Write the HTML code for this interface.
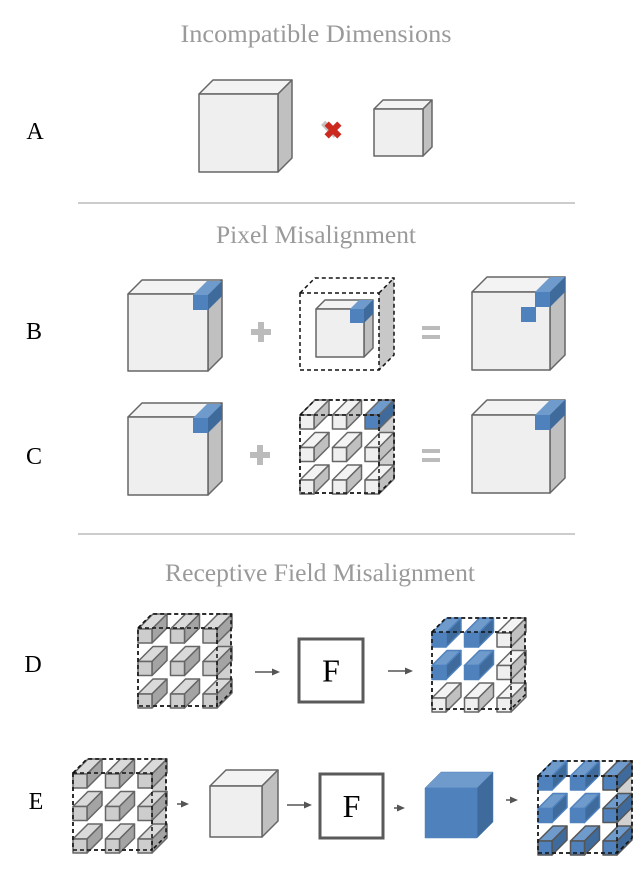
<!DOCTYPE html>
<html><head><meta charset="utf-8"><style>html,body{margin:0;padding:0;background:#fff}svg{display:block}</style></head>
<body>
<svg id="s" width="642" height="872" viewBox="0 0 642 872" xmlns="http://www.w3.org/2000/svg" font-family="Liberation Serif, serif">
<rect width="642" height="872" fill="#fff"/>
<g fill="#9a9a9a" font-size="25" text-anchor="middle">
<text x="316" y="42" textLength="271" lengthAdjust="spacingAndGlyphs">Incompatible Dimensions</text>
<text x="316" y="243" textLength="200" lengthAdjust="spacingAndGlyphs">Pixel Misalignment</text>
<text x="320" y="581" textLength="310" lengthAdjust="spacingAndGlyphs">Receptive Field Misalignment</text>
</g>
<g fill="#000" font-size="24" text-anchor="middle">
<text x="35" y="139">A</text>
<text x="34" y="339">B</text>
<text x="34" y="464">C</text>
<text x="33" y="672">D</text>
<text x="36" y="809">E</text>
</g>
<line x1="78" y1="203" x2="575" y2="203" stroke="#bbb" stroke-width="1.5"/>
<line x1="78" y1="534" x2="575" y2="534" stroke="#bbb" stroke-width="1.5"/>
<g id="g"></g>
</svg>
<script>
var out=[];
var L={f:'#efefef',t:'#f3f3f3',s:'#c0c0c0'};
var G={f:'#cdcdcd',t:'#dadada',s:'#a4a4a4'};
var B={f:'#4f81bd',t:'#6f9bcc',s:'#3e6a9c'};
function cube(x,y,w,h,d,c,st,sw,dash){
 st=st||'#666';sw=sw||1.5;var da=dash?' stroke-dasharray="4,3"':'';
 var a=' stroke="'+st+'" stroke-width="'+sw+'" stroke-linejoin="round"'+da;
 out.push('<polygon points="'+x+','+(y+d)+' '+(x+d)+','+y+' '+(x+w+d)+','+y+' '+(x+w)+','+(y+d)+'" fill="'+c.t+'"'+a+'/>');
 out.push('<polygon points="'+(x+w)+','+(y+d)+' '+(x+w+d)+','+y+' '+(x+w+d)+','+(y+h)+' '+(x+w)+','+(y+h+d)+'" fill="'+c.s+'"'+a+'/>');
 out.push('<rect x="'+x+'" y="'+(y+d)+'" width="'+w+'" height="'+h+'" fill="'+c.f+'"'+a+'/>');
}
function corner(x,y,w,d,s){ // blue corner block, no stroke; x,y is front top-left of corner
 out.push('<polygon points="'+x+','+y+' '+(x+d)+','+(y-d)+' '+(x+s+d)+','+(y-d)+' '+(x+s)+','+y+'" fill="'+B.t+'"/>');
 out.push('<polygon points="'+(x+s)+','+y+' '+(x+s+d)+','+(y-d)+' '+(x+s+d)+','+(y-d+s)+' '+(x+s)+','+(y+s)+'" fill="'+B.s+'"/>');
 out.push('<rect x="'+x+'" y="'+y+'" width="'+s+'" height="'+s+'" fill="'+B.f+'"/>');
}
function dashbox(x,y,w,h,d,side){
 var a=' fill="none" stroke="#111" stroke-width="1.5" stroke-dasharray="4,3"';
 if(side) out.push('<polygon points="'+(x+w)+','+(y+d)+' '+(x+w+d)+','+y+' '+(x+w+d)+','+(y+h)+' '+(x+w)+','+(y+h+d)+'" fill="'+side+'"/>');
 out.push('<polyline points="'+x+','+(y+d)+' '+(x+d)+','+y+' '+(x+w+d)+','+y+' '+(x+w+d)+','+(y+h)+' '+(x+w)+','+(y+h+d)+'"'+a+'/>');
 out.push('<line x1="'+(x+w)+'" y1="'+(y+d)+'" x2="'+(x+w+d)+'" y2="'+y+'"'+a+'/>');
 out.push('<rect x="'+x+'" y="'+(y+d)+'" width="'+w+'" height="'+h+'"'+a+'/>');
}
function grid(x,y,w,h,d,colorFn,strokeFn,sideFill){
 dashbox(x,y,w,h,d,sideFill);
 var p=(w-14)/2;
 for(var r=0;r<3;r++)for(var c=0;c<3;c++){
  var col=colorFn(r,c);
  cube(x+c*p,y+r*p,14,14,15,col,strokeFn?strokeFn(r,c):'#666',1.5);
 }
 var a=' fill="none" stroke="#111" stroke-width="1.5" stroke-dasharray="4,3"';
 out.push('<rect x="'+x+'" y="'+(y+d)+'" width="'+w+'" height="'+h+'"'+a+'/>');
 out.push('<polyline points="'+x+','+(y+d)+' '+(x+d)+','+y+' '+(x+w+d)+','+y+' '+(x+w+d)+','+(y+h)+' '+(x+w)+','+(y+h+d)+'"'+a+'/>');
}
function arrow(x1,x2,y){
 out.push('<line x1="'+x1+'" y1="'+y+'" x2="'+(x2-6)+'" y2="'+y+'" stroke="#555" stroke-width="1.5"/>');
 out.push('<polygon points="'+(x2-8)+','+(y-3.5)+' '+x2+','+y+' '+(x2-8)+','+(y+3.5)+'" fill="#555"/>');
}
function fbox(x,y,w,h){
 out.push('<rect x="'+x+'" y="'+y+'" width="'+w+'" height="'+h+'" fill="#fff" stroke="#5a5a5a" stroke-width="3"/>');
 out.push('<text x="'+(x+w/2)+'" y="'+(y+h/2+11)+'" font-size="32" text-anchor="middle" fill="#000">F</text>');
}
function plus(x,y){out.push('<rect x="'+(x-10)+'" y="'+(y-3)+'" width="20" height="6" fill="#bbb"/><rect x="'+(x-3)+'" y="'+(y-10)+'" width="6" height="20" fill="#bbb"/>');}
function eq(x,y){out.push('<rect x="'+(x-9)+'" y="'+(y-6)+'" width="18" height="4" fill="#bbb"/><rect x="'+(x-9)+'" y="'+(y+3)+'" width="18" height="4" fill="#bbb"/>');}
// A
cube(199,80,79,78,14,L);
cube(374,100,49,47,9,L);
out.push('<g transform="translate(333,130) rotate(45)"><rect x="-9" y="-3" width="18" height="6" fill="#c4c4c4" transform="translate(-3,2)"/><rect x="-9" y="-3" width="18" height="6" fill="#cc2a1e"/><rect x="-3" y="-9" width="6" height="18" fill="#cc2a1e"/></g>');
// B
cube(128,280,80,77,14,L); corner(193,295,0,14,15);
plus(261,332);
dashbox(300,278,79,77,15,'#c8c8c8');
cube(316,300,48,48,9,L); corner(350,309,0,9,14);
eq(431,332);
cube(472,277,78,78,15,L); corner(535,292,0,15,15);
out.push('<rect x="521" y="307" width="15" height="15" fill="'+B.f+'"/>');
// C
cube(128,403,80,78,14,L); corner(193,418,0,14,15);
plus(260,455);
grid(300,400,79,78,15,function(r,c){return (r==0&&c==2)?B:L;},null,'#cfcfcf');
eq(431,455);
cube(472,400,78,78,15,L); corner(535,415,0,15,15);
// D
grid(138,614,79,78,14,function(){return G;},null,'#d0d0d0');
arrow(255,280,672);
fbox(299,639,64,63);
arrow(388,413,671);
grid(432,618,79,77,14,function(r,c){return (r<2&&c<2)?B:L;},function(r,c){return (r<2&&c<2)?B.f:'#666';},'#d0d0d0');
// E
grid(73,759,79,77,14,function(){return G;},null,'#d0d0d0');
arrow(177,189,804);
cube(210,770,52,51,16,L);
arrow(287,312,805);
fbox(320,774,63,64);
arrow(394,405,808);
cube(425,772,52,50,16,B,B.f,0.5);
arrow(506,518,800);
grid(538,761,79,77,15,function(){return B;},function(r,c){return (r==2||c==2)?'#555':B.f;},'#d0d0d0');
document.getElementById('g').innerHTML=out.join('');
</script>
</body></html>
